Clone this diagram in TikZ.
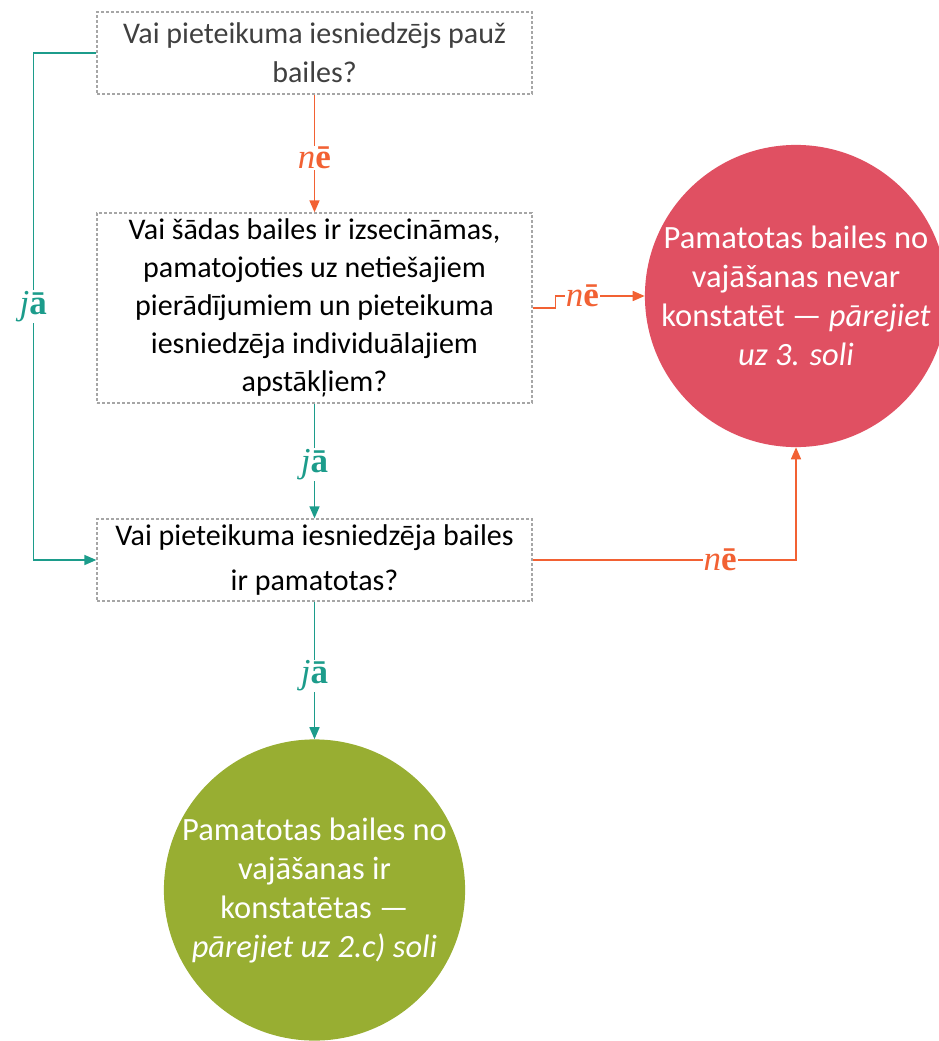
\documentclass[tikz,border=0pt]{standalone}
\usepackage{fontspec}
\setmainfont{Carlito}
\newfontfamily\lblfont{Liberation Serif}
\usetikzlibrary{arrows.meta}
\definecolor{orangeline}{HTML}{F26133}
\definecolor{tealline}{HTML}{1C9C8B}
\definecolor{redfill}{HTML}{E05062}
\definecolor{greenfill}{HTML}{98AE32}
\definecolor{boxedge}{HTML}{A6A6A6}
\begin{document}
\begin{tikzpicture}[x=1pt,y=-1pt,
  question/.style={draw=boxedge, line width=1.3pt, dash pattern=on 3pt off 2pt,
    minimum width=435pt, align=center, inner sep=0pt,
    font=\fontsize{30}{39}\selectfont},
  outcome/.style={circle, minimum size=298pt, inner sep=0pt, align=center,
    text=white, font=\fontsize{32.5}{39}\selectfont},
  yesline/.style={draw=tealline, line width=1.6pt, -{Triangle[length=12pt,width=10pt]}},
  noline/.style={draw=orangeline, line width=1.6pt, -{Triangle[length=12pt,width=10pt]}},
  lbl/.style={fill=white, inner sep=1pt, font=\lblfont\fontsize{35}{36}\selectfont},
  yes/.style={lbl, text=tealline},
  no/.style={lbl, text=orangeline}]
\useasboundingbox (0,0) rectangle (939,1041);

\node[question, minimum height=82pt, text=black!75] (q1) at (314.5,53)
  {Vai pieteikuma iesniedzējs pauž\\bailes?};
\node[question, minimum height=190pt, font=\fontsize{30}{38}\selectfont] (q2) at (314.5,308)
  {Vai šādas bailes ir izsecināmas,\\pamatojoties uz netiešajiem\\pierādījumiem un pieteikuma\\iesniedzēja individuālajiem\\apstākļiem?};
\node[question, minimum height=82pt, font=\fontsize{30}{45}\selectfont] (q3) at (314.5,560)
  {Vai pieteikuma iesniedzēja bailes\\ir pamatotas?};

\node[outcome, fill=redfill] (stop) at (796,296)
  {Pamatotas bailes no\\vajāšanas nevar\\konstatēt — \textit{pārejiet}\\\textit{uz 3. soli}};
\node[outcome, fill=greenfill] (go) at (314.5,890)
  {Pamatotas bailes no\\vajāšanas ir\\konstatētas —\\\textit{pārejiet uz 2.c) soli}};

% "no" branches
\draw[noline] (q1.south) -- node[no, pos=0.54]{\textit{n}\textbf{ē}} (q2.north);
\draw[noline] (q2.east) -- ++(23,0) |- node[no, pos=0.65]{\textit{n}\textbf{ē}} (stop.west);
\draw[noline] (q3.east) -| node[no, pos=0.356]{\textit{n}\textbf{ē}} (stop.south);

% "yes" branches
\draw[yesline] (q1.west) -- ++(-63,0) |- node[yes, pos=0.25]{\textit{j}\textbf{ā}} (q3.west);
\draw[yesline] (q2.south) -- node[yes, pos=0.53]{\textit{j}\textbf{ā}} (q3.north);
\draw[yesline] (q3.south) -- node[yes, pos=0.54]{\textit{j}\textbf{ā}} (go.north);
\end{tikzpicture}
\end{document}
